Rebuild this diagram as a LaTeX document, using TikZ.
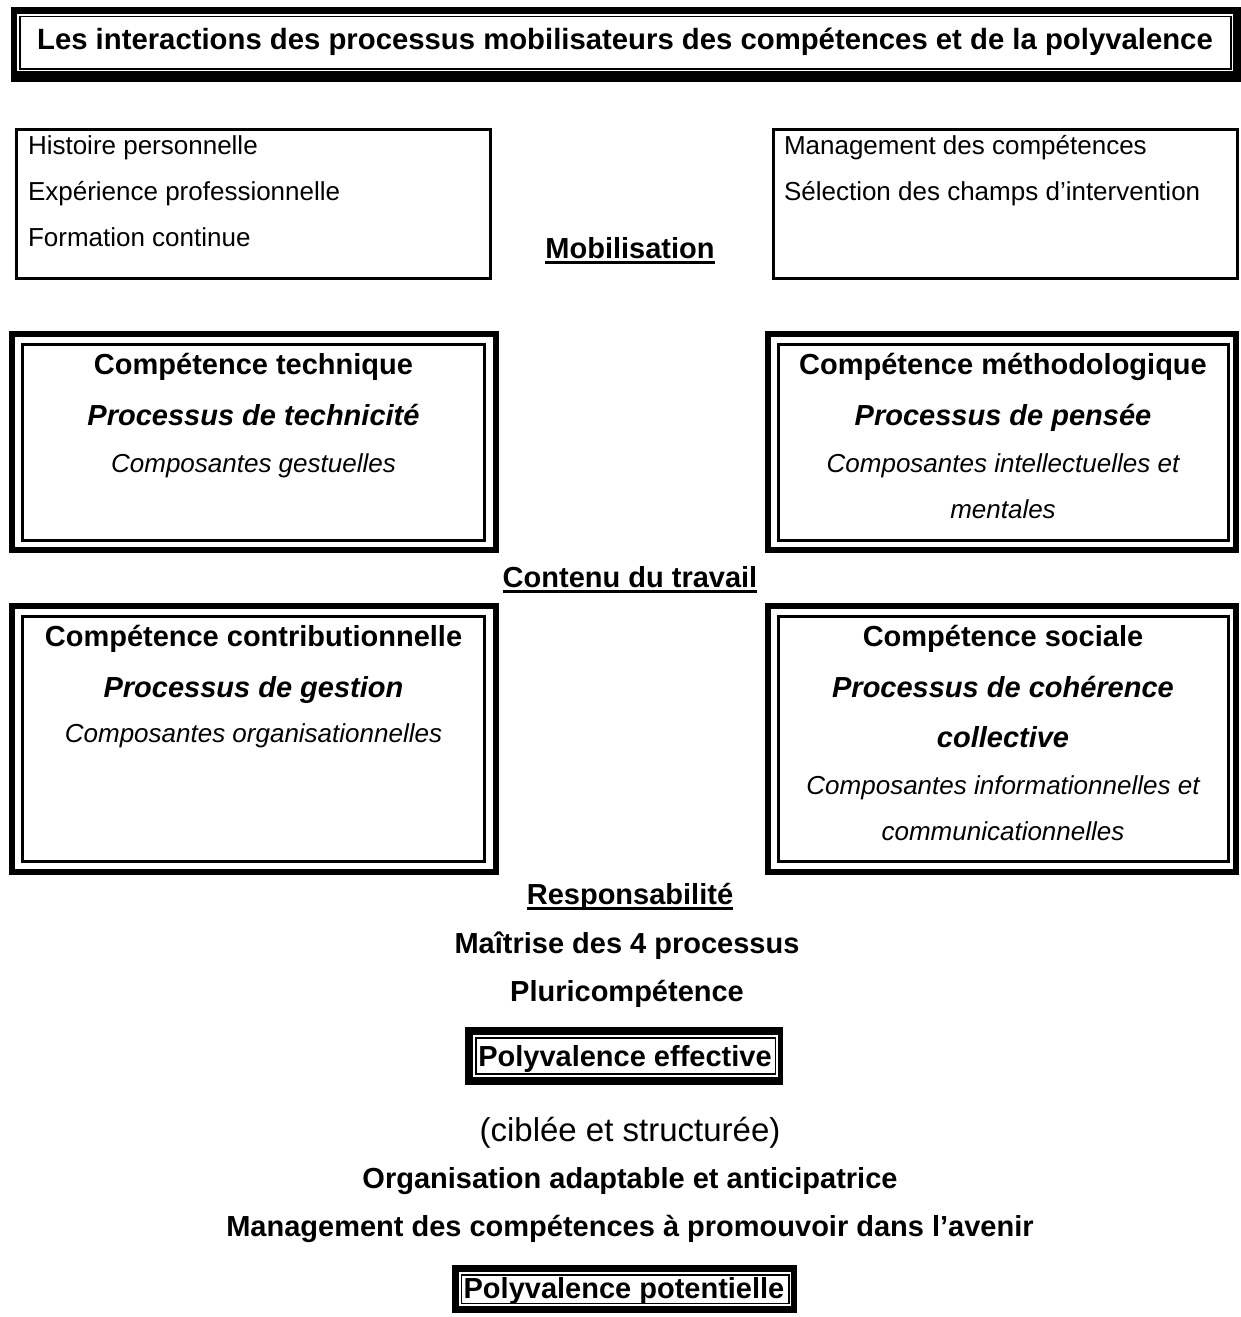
\documentclass[tikz,border=0pt]{standalone}
\usepackage{fontspec}
\setmainfont{Liberation Sans}
\begin{document}
\begin{tikzpicture}[x=1pt,y=-1pt,
  every node/.style={inner sep=0pt, outer sep=0pt},
  bd/.style={font=\fontsize{29}{34}\selectfont\bfseries, anchor=base},
  ttl/.style={font=\fontsize{29.3}{34}\selectfont\bfseries, anchor=base},
  bi/.style={font=\fontsize{29}{34}\selectfont\bfseries\itshape, anchor=base},
  it/.style={font=\fontsize{26}{30}\selectfont\itshape, anchor=base},
  rg/.style={font=\fontsize{26}{30}\selectfont, anchor=base west},
  rc/.style={font=\fontsize{33}{38}\selectfont, anchor=base},
  outerframe/.style={draw, line width=6pt},
  innerframe/.style={draw, line width=3pt},
  plainframe/.style={draw, line width=3pt},
  uline/.style={line width=2.5pt},
]
\useasboundingbox[fill=white] (0,0) rectangle (1241,1317);

% title
\fill[black] (11,7) rectangle (1241,82);
\fill[white] (16.7,14) rectangle (1233,71);
\draw[line width=1.7pt] (20,16.5) rectangle (1231,69.2);
\node[ttl] (title) at (625,49) {Les interactions des processus mobilisateurs des compétences et de la polyvalence};

% top plain boxes
\draw[plainframe] (16.5,129) rectangle (490,278.5);
\draw[plainframe] (773,129) rectangle (1237,278.5);
\node[rg] (h1) at (28,154) {Histoire personnelle};
\node[rg] (h2) at (28,200) {Expérience professionnelle};
\node[rg] (h3) at (28,246) {Formation continue};
\node[rg] (m1) at (784,154) {Management des compétences};
\node[rg] (m2) at (784,200) {Sélection des champs d’intervention};

\node[bd] (mob) at (630,258) {Mobilisation};
\draw[uline] ([yshift=-4.7pt]mob.base west) -- ([yshift=-4.7pt]mob.base east);

% row 1 boxes
\draw[outerframe] (12,334) rectangle (495.5,550);
\draw[innerframe] (22.5,344.5) rectangle (484.7,540);
\draw[outerframe] (768,334) rectangle (1236,550);
\draw[innerframe] (778.5,344.5) rectangle (1228.5,540);

\node[bd] (ct) at (253.5,374) {Compétence technique};
\node[bi] (pt) at (253.5,425) {Processus de technicité};
\node[it] (gt) at (253.5,472) {Composantes gestuelles};

\node[bd] (cm) at (1003,374) {Compétence méthodologique};
\node[bi] (pp) at (1003,425) {Processus de pensée};
\node[it] (im1) at (1003,472) {Composantes intellectuelles et};
\node[it] (im2) at (1003,518) {mentales};

\node[bd] (cont) at (630,587) {Contenu du travail};
\draw[uline] ([yshift=-4.7pt]cont.base west) -- ([yshift=-4.7pt]cont.base east);

% row 2 boxes
\draw[outerframe] (12,606) rectangle (495.5,872);
\draw[innerframe] (22.5,616) rectangle (484.7,861.5);
\draw[outerframe] (768,606) rectangle (1236,872);
\draw[innerframe] (778.5,616) rectangle (1228.5,861.5);

\node[bd] (cc) at (253.5,646) {Compétence contributionnelle};
\node[bi] (pg) at (253.5,697) {Processus de gestion};
\node[it] (og) at (253.5,742) {Composantes organisationnelles};

\node[bd] (cs) at (1003,646) {Compétence sociale};
\node[bi] (pc1) at (1003,697) {Processus de cohérence};
\node[bi] (pc2) at (1003,747) {collective};
\node[it] (ic1) at (1003,794) {Composantes informationnelles et};
\node[it] (ic2) at (1003,840) {communicationnelles};

% bottom
\node[bd] (resp) at (630,904) {Responsabilité};
\draw[uline] ([yshift=-4.7pt]resp.base west) -- ([yshift=-4.7pt]resp.base east);
\node[bd] (mait) at (627,953) {Maîtrise des 4 processus};
\node[bd] (plur) at (627,1001) {Pluricompétence};

\fill[black] (465,1027) rectangle (783,1085);
\fill[white] (473,1035) rectangle (778,1077);
\draw[line width=1.5pt] (476,1038) rectangle (775.5,1074);
\node[bd] (peff) at (625,1066) {Polyvalence effective};

\node[rc] (cib) at (630,1141) {(ciblée et structurée)};
\node[bd] (orga) at (630,1188) {Organisation adaptable et anticipatrice};
\node[bd] (mgmt) at (630,1236) {Management des compétences à promouvoir dans l’avenir};

\fill[black] (452,1265) rectangle (797,1313);
\fill[white] (459,1272) rectangle (791,1306);
\draw[line width=1.5pt] (461.5,1275) rectangle (789,1303.5);
\node[bd] (ppot) at (624,1298) {Polyvalence potentielle};
\end{tikzpicture}
\end{document}
